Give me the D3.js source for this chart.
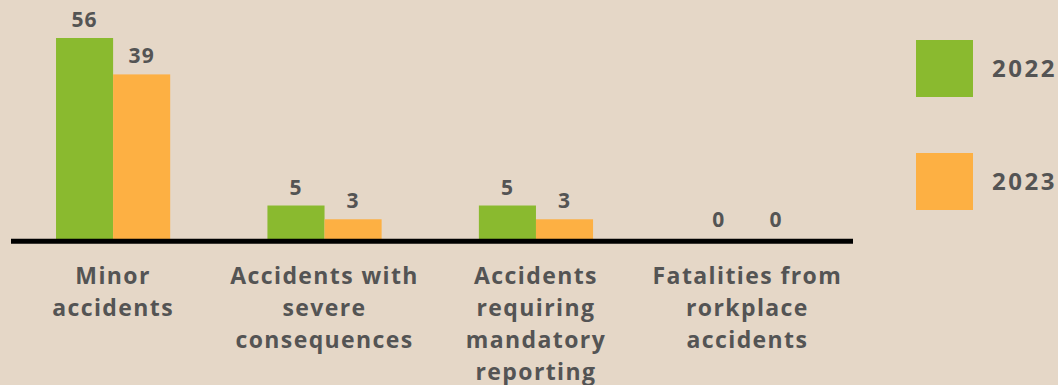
<!DOCTYPE html>
<html>
<head>
<meta charset="utf-8">
<script src="https://cdn.jsdelivr.net/npm/d3@7"></script>
<style>
  html, body { margin: 0; padding: 0; background: #e5d7c7; }
  svg { display: block; }
  text { font-family: "Open Sans", "Noto Sans", sans-serif; font-weight: 700; fill: #545454; }
</style>
</head>
<body>
<svg id="chart" width="1058" height="385"></svg>
<script>
// Workplace accident counts by type, 2022 vs 2023
const categories = [
  ["Minor", "accidents"],
  ["Accidents with", "severe", "consequences"],
  ["Accidents", "requiring", "mandatory", "reporting"],
  ["Fatalities from", "rorkplace", "accidents"]
];
const years = ["2022", "2023"];
const values2022 = [56, 5, 5, 0];
const values2023 = [39, 3, 3, 0];
const colors = ["#8aba2f", "#fdb043"];

const svg = d3.select("#chart");
const baseY = 243;

const x0 = d3.scaleBand()
  .domain(d3.range(categories.length))
  .range([9.5, 851])
  .paddingInner(0.46)
  .paddingOuter(0.22);

const x1 = d3.scaleBand()
  .domain(years)
  .range([0, x0.bandwidth()]);

const y = d3.scaleSymlog()
  .constant(15.5)
  .domain([0, 56])
  .range([baseY, 38]);

const rows = categories.map((c, i) => ({
  i,
  vals: [values2022[i], values2023[i]].map((v, k) => ({ year: years[k], v, k }))
}));

const groups = svg.selectAll("g.grp")
  .data(rows)
  .join("g")
  .attr("class", "grp")
  .attr("transform", d => `translate(${x0(d.i)},0)`);

groups.selectAll("rect")
  .data(d => d.vals)
  .join("rect")
  .attr("x", d => x1(d.year))
  .attr("y", d => y(d.v))
  .attr("width", x1.bandwidth())
  .attr("height", d => baseY - y(d.v))
  .attr("fill", d => colors[d.k]);

groups.selectAll("text.val")
  .data(d => d.vals)
  .join("text")
  .attr("class", "val")
  .attr("x", d => x1(d.year) + x1.bandwidth() / 2)
  .attr("y", d => Math.min(y(d.v), 238) - 11)
  .attr("text-anchor", "middle")
  .style("font-size", "21px")
  .style("letter-spacing", "1px")
  .text(d => d.v);

// baseline
svg.append("line")
  .attr("x1", 11).attr("x2", 853)
  .attr("y1", 241.2).attr("y2", 241.2)
  .attr("stroke", "#000")
  .attr("stroke-width", 5);

// category labels
const labels = svg.selectAll("text.cat")
  .data(categories)
  .join("text")
  .attr("class", "cat")
  .attr("text-anchor", "middle")
  .attr("transform", (d, i) => `translate(${x0(i) + x0.bandwidth() / 2},284)`)
  .style("font-size", "23px")
  .style("letter-spacing", "1.4px");

labels.selectAll("tspan")
  .data(d => d)
  .join("tspan")
  .attr("x", 0)
  .attr("y", (d, j) => j * 32)
  .text(d => d);

// legend
const legend = svg.selectAll("g.leg")
  .data(years)
  .join("g")
  .attr("class", "leg")
  .attr("transform", (d, i) => `translate(916,${40 + i * 113})`);

legend.append("rect")
  .attr("width", 57).attr("height", 57)
  .attr("fill", (d, i) => colors[i]);

legend.append("text")
  .attr("x", 76).attr("y", 37)
  .style("font-size", "24px")
  .style("letter-spacing", "2.5px")
  .text(d => d);
</script>
</body>
</html>
